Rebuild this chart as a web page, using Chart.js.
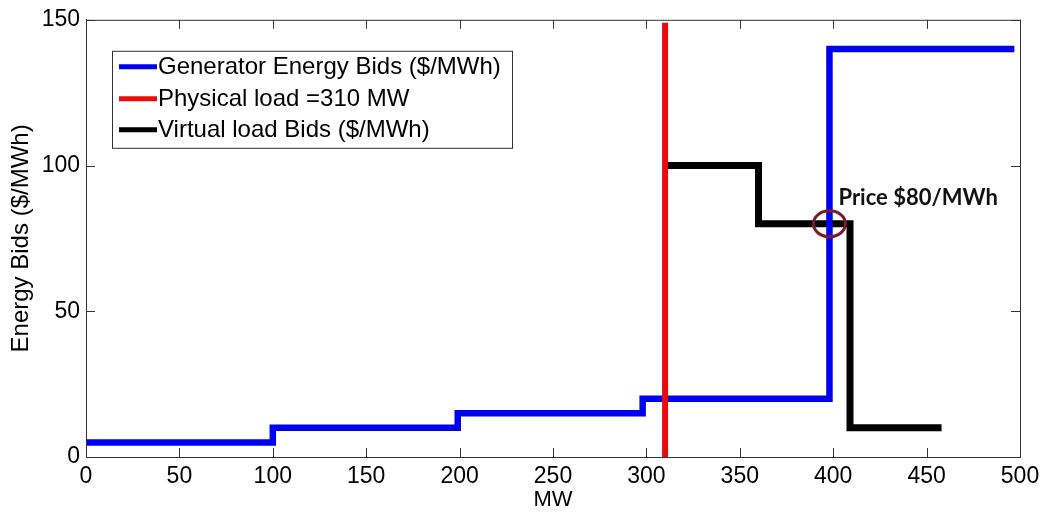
<!DOCTYPE html>
<html>
<head>
<meta charset="utf-8">
<script src="https://cdn.jsdelivr.net/npm/chart.js@4.4.1/dist/chart.umd.min.js"></script>
<style>
    html, body { margin: 0; padding: 0; background: #fff; }
    #wrap { width: 1047px; height: 514px; }
</style>
</head>
<body>
<div id="wrap"><canvas id="myChart" width="1047" height="514"></canvas></div>
<script>
// === データ ===
const genMW = [0, 100, 199, 298, 398, 497];          // 発電機入札のステップ位置
const genBid = [5, 10, 15, 20, 140, 140];
const loadMW = [310, 310];                           // 物理負荷 310 MW
const loadBid = [0, 149];
const virtMW = [310, 360, 409, 458];                 // 仮想負荷入札
const virtBid = [100, 80, 10, 10];

const xTicks = [0, 50, 100, 150, 200, 250, 300, 350, 400, 450, 500];
const yTicks = [0, 50, 100, 150];

const seriesLabels = ['Generator Energy Bids ($/MWh)', 'Physical load =310 MW', 'Virtual load Bids ($/MWh)'];
const seriesColors = ['#0000f0', '#e80c0c', '#000000'];

// 価格の注記
const priceMW = 398;
const priceBid = 80;
const priceText = 'Price $80/MWh';

const toPoints = (xs, ys) => xs.map((x, i) => ({ x: x, y: ys[i] }));

Chart.defaults.font.family = '"Liberation Sans", Arial, sans-serif';
Chart.defaults.color = '#000';

// 枠線・内向き目盛り・凡例・注記を描く
const matlabStyle = {
    id: 'matlabStyle',
    afterDatasetsDraw(chart) {
        const ctx = chart.ctx;
        const area = chart.chartArea;
        const xs = chart.scales.x;
        const ys = chart.scales.y;

        ctx.save();
        // 注記 (円とテキスト)
        const cx = xs.getPixelForValue(priceMW);
        const cy = ys.getPixelForValue(priceBid);
        ctx.strokeStyle = '#7b1a2a';
        ctx.lineWidth = 3;
        ctx.beginPath();
        ctx.ellipse(cx, cy, 16, 13, 0, 0, Math.PI * 2);
        ctx.stroke();
        ctx.fillStyle = '#111';
        ctx.font = 'bold 22px Lato, "Open Sans", sans-serif';
        ctx.textAlign = 'left';
        ctx.textBaseline = 'middle';
        ctx.fillText(priceText, cx + 9, cy - 26);

        // 外枠
        ctx.strokeStyle = '#333';
        ctx.lineWidth = 1;
        ctx.strokeRect(area.left + 0.5, area.top + 0.5, area.right - area.left, area.bottom - area.top);

        // 内向きの目盛り (上下左右)
        ctx.beginPath();
        xTicks.forEach(v => {
            const px = Math.round(xs.getPixelForValue(v)) + 0.5;
            ctx.moveTo(px, area.bottom);
            ctx.lineTo(px, area.bottom - 9);
            ctx.moveTo(px, area.top);
            ctx.lineTo(px, area.top + 9);
        });
        yTicks.forEach(v => {
            const py = Math.round(ys.getPixelForValue(v)) + 0.5;
            ctx.moveTo(area.left, py);
            ctx.lineTo(area.left + 9, py);
            ctx.moveTo(area.right, py);
            ctx.lineTo(area.right - 9, py);
        });
        ctx.stroke();

        // 凡例
        const bx = area.left + 26;
        const by = area.top + 31;
        const bw = 400;
        const bh = 97;
        ctx.fillStyle = '#fff';
        ctx.fillRect(bx, by, bw, bh);
        ctx.strokeStyle = '#333';
        ctx.strokeRect(bx + 0.5, by + 0.5, bw, bh);
        ctx.font = '24px "Liberation Sans", Arial, sans-serif';
        ctx.textAlign = 'left';
        ctx.textBaseline = 'middle';
        const rows = [16, 48, 79];
        seriesLabels.forEach((label, i) => {
            const ry = by + rows[i];
            ctx.strokeStyle = seriesColors[i];
            ctx.lineWidth = 5;
            ctx.beginPath();
            ctx.moveTo(bx + 7, ry);
            ctx.lineTo(bx + 45, ry);
            ctx.stroke();
            ctx.fillStyle = '#000';
            ctx.fillText(label, bx + 46, ry + 1);
        });
        ctx.restore();
    }
};

const ctx = document.getElementById('myChart').getContext('2d');
const myChart = new Chart(ctx, {
    type: 'scatter',
    data: {
        datasets: [
            {
                label: seriesLabels[0],
                data: toPoints(genMW, genBid),
                showLine: true,
                stepped: 'before',
                borderColor: seriesColors[0],
                borderWidth: 6.5,
                pointRadius: 0,
                order: 2
            },
            {
                label: seriesLabels[1],
                data: toPoints(loadMW, loadBid),
                showLine: true,
                borderColor: seriesColors[1],
                borderWidth: 6,
                pointRadius: 0,
                order: 1
            },
            {
                label: seriesLabels[2],
                data: toPoints(virtMW, virtBid),
                showLine: true,
                stepped: 'before',
                borderColor: seriesColors[2],
                borderWidth: 7,
                pointRadius: 0,
                order: 3
            }
        ]
    },
    options: {
        responsive: false,
        animation: false,
        layout: { padding: { top: 18, right: 27, left: 0, bottom: 0 } },
        plugins: {
            legend: { display: false },
            tooltip: { enabled: false }
        },
        scales: {
            x: {
                type: 'linear',
                min: 0,
                max: 500,
                afterBuildTicks: s => { s.ticks = xTicks.map(v => ({ value: v })); },
                afterFit: s => { s.height = 57; },
                ticks: { font: { size: 23 }, color: '#000', padding: 6, maxRotation: 0 },
                grid: { drawOnChartArea: false, drawTicks: false },
                border: { display: true, color: '#333', width: 1 },
                title: { display: true, text: 'MW', font: { size: 22 }, color: '#000', padding: { top: 0, bottom: 1 } }
            },
            y: {
                type: 'linear',
                min: 0,
                max: 150,
                afterBuildTicks: s => { s.ticks = yTicks.map(v => ({ value: v })); },
                afterFit: s => { s.width = 86; },
                ticks: { font: { size: 23 }, color: '#000', padding: 6 },
                grid: { drawOnChartArea: false, drawTicks: false },
                border: { display: true, color: '#333', width: 1 },
                title: { display: true, text: 'Energy Bids ($/MWh)', font: { size: 24 }, color: '#000', padding: { top: 7, bottom: 0 } }
            }
        }
    },
    plugins: [matlabStyle]
});
</script>
</body>
</html>
